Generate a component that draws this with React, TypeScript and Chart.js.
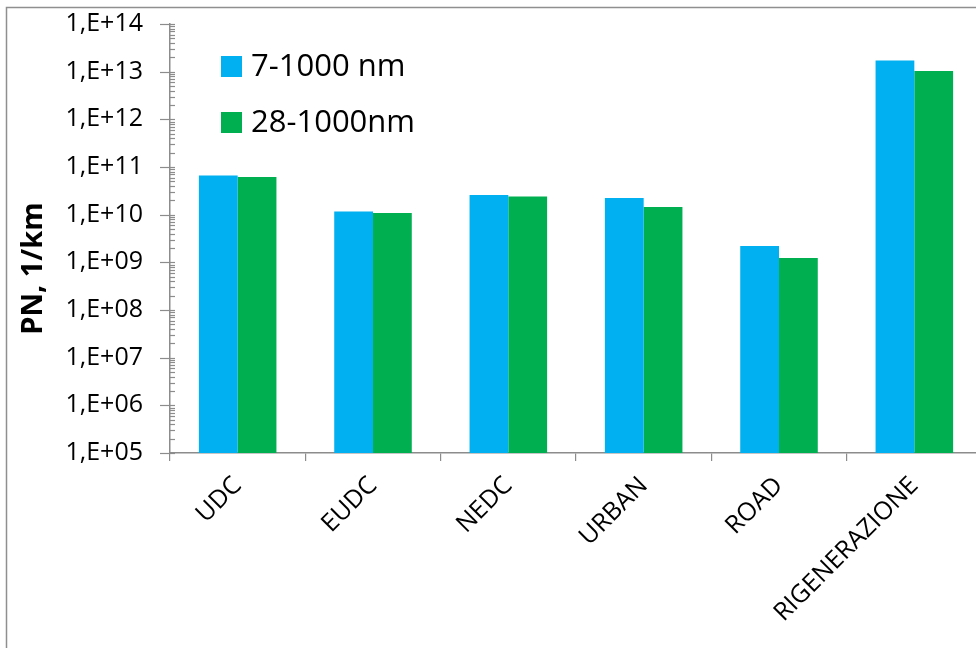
import React, { useEffect, useRef } from "react";
import { Chart, registerables } from "chart.js";

Chart.register(...registerables);

const categories = ["UDC", "EUDC", "NEDC", "URBAN", "ROAD", "RIGENERAZIONE"];
const seriesLabels = ["7-1000 nm", "28-1000nm"];
const pn7to1000 = [6.6e10, 1.16e10, 2.6e10, 2.25e10, 2.2e9, 1.72e13];
const pn28to1000 = [6.2e10, 1.08e10, 2.4e10, 1.45e10, 1.23e9, 1.03e13];
const seriesColors = ["#00B0F0", "#00B050"];
const yTickValues = [1e5, 1e6, 1e7, 1e8, 1e9, 1e10, 1e11, 1e12, 1e13, 1e14];
const yTitle = "PN, 1/km";

const AXIS = "#8c8c8c";
const FONT = "'Open Sans', sans-serif";

const decoPlugin = {
  id: "deco",
  beforeDraw(chart: any) {
    const ctx = chart.ctx;
    ctx.save();
    ctx.fillStyle = "#ffffff";
    ctx.fillRect(0, 0, chart.width, chart.height);
    ctx.strokeStyle = "#8f8f8f";
    ctx.lineWidth = 1.5;
    ctx.strokeRect(6.5, 7.5, chart.width + 50, chart.height + 50);
    ctx.restore();
  },
  afterDraw(chart: any) {
    const ctx = chart.ctx;
    const y = chart.scales.y;
    const area = chart.chartArea;
    const left = area.left;
    ctx.save();
    ctx.strokeStyle = AXIS;
    ctx.lineWidth = 1.2;
    yTickValues.forEach((v) => {
      const py = Math.round(y.getPixelForValue(v)) + 0.5;
      ctx.beginPath();
      ctx.moveTo(left - 10, py);
      ctx.lineTo(left + 5, py);
      ctx.stroke();
    });
    for (let i = 0; i < yTickValues.length - 1; i++) {
      for (let k = 2; k <= 9; k++) {
        const py = Math.round(y.getPixelForValue(yTickValues[i] * k)) + 0.5;
        ctx.beginPath();
        ctx.moveTo(left, py);
        ctx.lineTo(left + 5, py);
        ctx.stroke();
      }
    }
    ctx.fillStyle = "#000";
    ctx.font = `bold 29px ${FONT}`;
    ctx.textAlign = "center";
    ctx.textBaseline = "middle";
    ctx.translate(34, (area.top + area.bottom) / 2 + 30);
    ctx.rotate(-Math.PI / 2);
    ctx.fillText(yTitle, 0, 0);
    ctx.restore();

    ctx.save();
    ctx.font = `31px ${FONT}`;
    ctx.textAlign = "left";
    ctx.textBaseline = "middle";
    chart.data.datasets.forEach((ds: any, i: number) => {
      const sx = left + 51;
      const sy = area.top + 32 + i * 56;
      ctx.fillStyle = ds.backgroundColor;
      ctx.fillRect(sx, sy, 21, 21);
      ctx.fillStyle = "#000";
      ctx.fillText(ds.label, sx + 30, sy + 11);
    });
    ctx.restore();
  },
};

export default function App() {
  const ref = useRef<HTMLCanvasElement | null>(null);
  useEffect(() => {
    if (!ref.current) return;
    const chart = new Chart(ref.current, {
      type: "bar",
      data: {
        labels: categories,
        datasets: [
          { label: seriesLabels[0], data: pn7to1000, backgroundColor: seriesColors[0] },
          { label: seriesLabels[1], data: pn28to1000, backgroundColor: seriesColors[1] },
        ],
      },
      plugins: [decoPlugin],
      options: {
        responsive: false,
        animation: false,
        layout: { padding: { top: 24, right: 18, bottom: 0, left: 0 } },
        plugins: { legend: { display: false }, tooltip: { enabled: false } },
        datasets: { bar: { categoryPercentage: 0.573, barPercentage: 1 } },
        scales: {
          x: {
            offset: true,
            grid: { display: true, drawOnChartArea: false, drawTicks: true, tickLength: 8, color: AXIS, lineWidth: 1.2, offset: true },
            border: { display: true, color: AXIS, width: 1.5 },
            ticks: { color: "#000", font: { family: FONT, size: 25 }, minRotation: 45, maxRotation: 45, autoSkip: false, padding: 10 },
            afterFit: (s: any) => { s.height = 195; s.paddingLeft = 0; s.paddingRight = 0; },
          },
          y: {
            type: "logarithmic",
            min: 1e5,
            max: 1e14,
            grid: { display: false, drawTicks: true, tickLength: 10 },
            border: { display: true, color: AXIS, width: 1.5 },
            afterBuildTicks: (s: any) => { s.ticks = yTickValues.map((v) => ({ value: v, major: true })); },
            ticks: {
              color: "#000",
              font: { family: FONT, size: 25 },
              padding: 17,
              autoSkip: false,
              callback: (v: any) => "1,E+" + String(Math.round(Math.log10(Number(v)))).padStart(2, "0"),
            },
            afterFit: (s: any) => { s.width = 170; s.paddingTop = 0; s.paddingBottom = 0; },
          },
        },
      },
    });
    return () => chart.destroy();
  }, []);
  return (
    <div style={{ position: "absolute", left: 0, top: 0, width: 976, height: 648, overflow: "hidden", background: "#fff" }}>
      <canvas ref={ref} width={1000} height={648} style={{ display: "block", width: 1000, height: 648 }} />
    </div>
  );
}
